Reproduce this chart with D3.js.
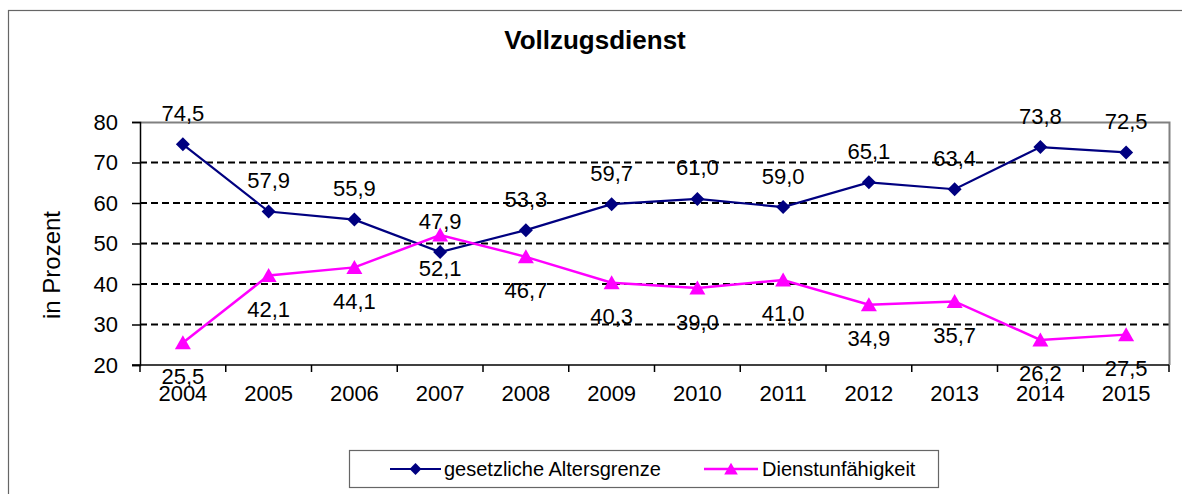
<!DOCTYPE html>
<html><head><meta charset="utf-8">
<script src="https://cdn.jsdelivr.net/npm/d3@7/dist/d3.min.js"></script>
<style>body{margin:0;background:#fff}svg{display:block}text{font-family:"Liberation Sans",Arial,sans-serif}</style>
</head><body>
<svg id="c" width="1182" height="494"></svg>
<script>
const years = ["2004","2005","2006","2007","2008","2009","2010","2011","2012","2013","2014","2015"];
const altersgrenze = [74.5,57.9,55.9,47.9,53.3,59.7,61.0,59.0,65.1,63.4,73.8,72.5];
const dienstunfaehigkeit = [25.5,42.1,44.1,52.1,46.7,40.3,39.0,41.0,34.9,35.7,26.2,27.5];
const yTicks = [20,30,40,50,60,70,80];
const seriesNames = ["gesetzliche Altersgrenze","Dienstunfähigkeit"];
const title = "Vollzugsdienst";
const yLabel = "in Prozent";

const svg = d3.select("#c");
const L=140,R=1169,T=122,B=365;
const x = d3.scaleBand().domain(years).range([L,R]);
const y = d3.scaleLinear().domain([20,80]).range([B,T]);
const fmt = v => d3.format(".1f")(v).replace(".",",");
const FF = "Liberation Sans, Arial, sans-serif";

// outer border
svg.append("rect").attr("x",8.5).attr("y",10.5).attr("width",1200).attr("height",600)
  .attr("fill","none").attr("stroke","#666").attr("stroke-width",1.2);

// title
svg.append("text").attr("x",595).attr("y",49).attr("text-anchor","middle")
  .attr("font-size",26).attr("font-weight","bold").text(title);

// gridlines
svg.append("g").selectAll("line").data(yTicks.filter(t=>t>20 && t<80)).join("line")
  .attr("x1",L).attr("x2",R).attr("y1",d=>y(d)).attr("y2",d=>y(d))
  .attr("stroke","#000").attr("stroke-width",2).attr("stroke-dasharray","7,4");
// plot border top/right
svg.append("path").attr("d",`M${L},${T+0.5}H${R+0.5}V${B}`).attr("fill","none").attr("stroke","#808080").attr("stroke-width",2);

// y axis
const ya = svg.append("g").attr("transform",`translate(${L},0)`)
  .call(d3.axisLeft(y).tickValues(yTicks).tickSize(8).tickPadding(14).tickFormat(d3.format("d")));
ya.select(".domain").attr("stroke","#000").attr("stroke-width",1.5);
ya.selectAll(".tick line").attr("stroke","#000").attr("stroke-width",1.5);
ya.selectAll("text").attr("font-size",22).attr("font-family",FF).attr("fill","#000");

// x axis
const xa = svg.append("g").attr("transform",`translate(0,${B})`)
  .call(d3.axisBottom(x).tickSize(0).tickPadding(20));
xa.select(".domain").remove();
xa.selectAll("text").attr("font-size",22).attr("font-family",FF).attr("fill","#000");
svg.append("line").attr("x1",L-8).attr("x2",R).attr("y1",B).attr("y2",B).attr("stroke","#000").attr("stroke-width",1.5);
const bounds = years.map(d=>x(d)).concat([x(years[years.length-1])+x.bandwidth()]);
svg.append("g").selectAll("line").data(bounds).join("line")
  .attr("x1",d=>d).attr("x2",d=>d).attr("y1",B).attr("y2",B+7).attr("stroke","#000").attr("stroke-width",1.5);

// y label
svg.append("text").attr("transform","translate(60,265) rotate(-90)").attr("text-anchor","middle")
  .attr("font-size",24).text(yLabel);

const cx = d => x(d)+x.bandwidth()/2;
const blue="#000080", pink="#FF00FF";
function drawSeries(vals,color,lw,shape,labelDy){
  const data = years.map((yr,i)=>({yr,v:vals[i]}));
  svg.append("path").datum(data).attr("fill","none").attr("stroke",color).attr("stroke-width",lw)
    .attr("d",d3.line().x(d=>cx(d.yr)).y(d=>y(d.v)));
  svg.append("g").selectAll("path").data(data).join("path")
    .attr("transform",d=>`translate(${cx(d.yr)},${y(d.v)})`).attr("fill",color).attr("d",shape);
  svg.append("g").selectAll("text").data(data).join("text")
    .attr("x",d=>cx(d.yr)).attr("y",d=>y(d.v)+labelDy).attr("text-anchor","middle")
    .attr("font-size",22).attr("fill","#000").text(d=>fmt(d.v));
}
const diamondPath = "M0,-7L7,0L0,7L-7,0Z";
const triPath = "M0,-7.5L8,6.5L-8,6.5Z";
drawSeries(altersgrenze,blue,2.2,diamondPath,-23.5);
drawSeries(dienstunfaehigkeit,pink,2.5,triPath,41.5);

// legend
const lg = svg.append("g");
lg.append("rect").attr("x",349.5).attr("y",450.5).attr("width",589).attr("height",37)
  .attr("fill","#fff").attr("stroke","#666").attr("stroke-width",1.2);
const items=[{n:seriesNames[0],c:blue,p:diamondPath,x1:390,x2:441,tx:444,lw:2.2},
             {n:seriesNames[1],c:pink,p:triPath,x1:704,x2:758,tx:762,lw:2.5}];
items.forEach(it=>{
  lg.append("line").attr("x1",it.x1).attr("x2",it.x2).attr("y1",469).attr("y2",469).attr("stroke",it.c).attr("stroke-width",it.lw);
  lg.append("path").attr("transform",`translate(${(it.x1+it.x2)/2},469) scale(0.85)`).attr("fill",it.c).attr("d",it.p);
  lg.append("text").attr("x",it.tx).attr("y",476).attr("font-size",20).text(it.n);
});
</script>
</body></html>
